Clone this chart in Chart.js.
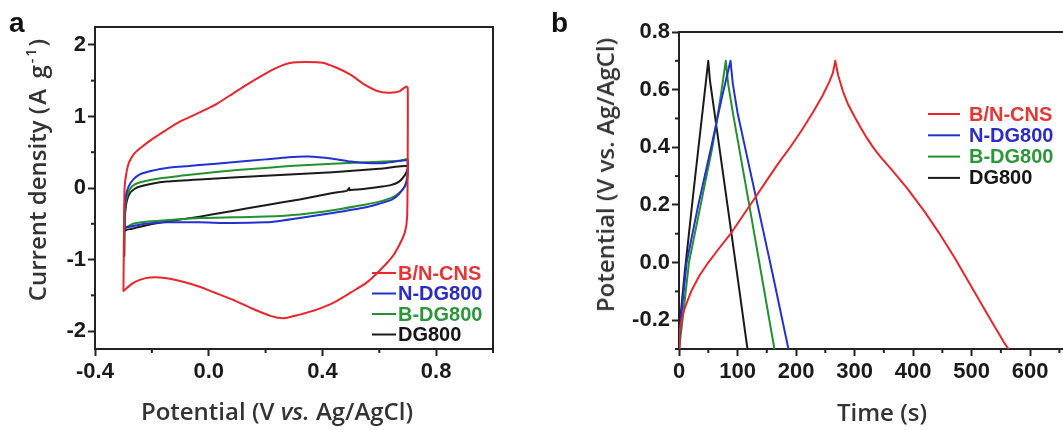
<!DOCTYPE html>
<html><head><meta charset="utf-8">
<script src="https://cdn.jsdelivr.net/npm/chart.js@4.4.1/dist/chart.umd.min.js"></script>
<style>
html,body{margin:0;padding:0;background:#fff;overflow:hidden;width:1063px;height:430px;}
#wrap{position:relative;width:1063px;height:430px;overflow:hidden;background:#fff;}
canvas{position:absolute;top:0;}
#cA{left:0;width:520px;height:430px;}
#cB{left:540px;width:570px;height:430px;}
.lbl{position:absolute;font-family:"Liberation Sans",Arial,sans-serif;font-weight:bold;font-size:28px;color:#111;line-height:1;}
.ttl{position:absolute;font-family:"Open Sans",sans-serif;font-weight:600;font-size:24px;color:#333;white-space:nowrap;line-height:1;transform:translate(-50%,-50%);}
.rot{transform:translate(-50%,-50%) rotate(-90deg);}
sup{font-size:0.6em;vertical-align:0.7em;line-height:0;}
.sp{letter-spacing:2px;}
</style></head>
<body><div id="wrap">
<canvas id="cA" width="520" height="430"></canvas>
<canvas id="cB" width="570" height="430"></canvas>
<div class="lbl" style="left:9px;top:9px">a</div>
<div class="lbl" style="left:551px;top:9px">b</div>
<div class="ttl rot" style="left:37px;top:169px">Current density <span class="sp">(A g<sup>-1</sup>)</span></div>
<div class="ttl" style="left:277px;top:411px">Potential (V <i>vs.</i> Ag/AgCl)</div>
<div class="ttl rot" style="left:605px;top:175px">Potential (V vs. Ag/AgCl)</div>
<div class="ttl" style="left:882px;top:412px">Time (s)</div>
</div>
<script>
// ---------- Panel a: CV curves ----------
const seriesNames = ['B/N-CNS', 'N-DG800', 'B-DG800', 'DG800'];

const cvBnCnsV = [-0.300,-0.298,-0.296,-0.290,-0.280,-0.262,-0.240,-0.200,-0.150,-0.100,-0.030,0.030,0.085,0.140,0.200,0.250,0.290,0.340,0.400,0.450,0.500,0.550,0.590,0.630,0.670,0.695,0.700,0.700,0.698,0.690,0.670,0.646,0.600,0.553,0.500,0.436,0.380,0.320,0.265,0.220,0.150,0.084,0.020,-0.032,-0.090,-0.148,-0.207,-0.240,-0.267,-0.300];
const cvBnCnsJ = [-1.44,-0.60,0.00,0.20,0.36,0.48,0.56,0.68,0.81,0.93,1.06,1.18,1.32,1.46,1.60,1.70,1.75,1.76,1.75,1.68,1.58,1.44,1.36,1.33,1.35,1.42,1.40,0.50,-0.40,-0.62,-0.80,-0.96,-1.16,-1.33,-1.46,-1.61,-1.70,-1.77,-1.82,-1.79,-1.68,-1.56,-1.46,-1.38,-1.31,-1.26,-1.25,-1.28,-1.33,-1.44];

const cvNdgV = [-0.297,-0.296,-0.292,-0.282,-0.265,-0.242,-0.200,-0.148,-0.032,0.084,0.200,0.280,0.350,0.436,0.500,0.553,0.620,0.695,0.700,0.698,0.690,0.670,0.646,0.600,0.553,0.436,0.320,0.250,0.200,0.084,-0.032,-0.148,-0.220,-0.266,-0.297];
const cvNdgJ = [-0.56,-0.30,-0.12,0.02,0.12,0.19,0.24,0.28,0.32,0.36,0.40,0.43,0.44,0.41,0.37,0.35,0.35,0.39,0.38,0.15,0.03,-0.08,-0.16,-0.22,-0.27,-0.35,-0.42,-0.46,-0.48,-0.49,-0.48,-0.48,-0.50,-0.53,-0.56];

const cvBdgV = [-0.297,-0.295,-0.290,-0.278,-0.260,-0.230,-0.180,-0.100,-0.032,0.100,0.200,0.300,0.436,0.550,0.670,0.700,0.699,0.692,0.670,0.646,0.600,0.553,0.436,0.320,0.200,0.084,-0.032,-0.148,-0.220,-0.266,-0.297];
const cvBdgJ = [-0.57,-0.35,-0.15,-0.02,0.05,0.09,0.13,0.17,0.20,0.25,0.28,0.31,0.34,0.36,0.38,0.40,0.15,0.03,-0.07,-0.13,-0.19,-0.23,-0.31,-0.37,-0.40,-0.41,-0.42,-0.45,-0.47,-0.50,-0.57];

const cvDgV = [0.495,0.485,0.436,0.320,0.200,0.084,-0.032,-0.148,-0.230,-0.270,-0.295,-0.297,-0.296,-0.294,-0.288,-0.277,-0.260,-0.242,-0.200,-0.148,-0.032,0.200,0.436,0.600,0.700,0.700,0.690,0.670,0.640,0.610,0.550,0.495];
const cvDgJ = [0.00,-0.04,-0.07,-0.16,-0.24,-0.32,-0.40,-0.47,-0.53,-0.57,-0.60,-0.95,-0.60,-0.35,-0.18,-0.07,-0.01,0.02,0.06,0.09,0.12,0.17,0.22,0.27,0.31,0.27,0.18,0.09,0.04,0.02,-0.01,-0.03];

const cvXTicks  = [-0.4,-0.2,0.0,0.2,0.4,0.6,0.8,1.0];
const cvXLabels = ['-0.4','','0.0','','0.4','','0.8',''];
const cvYTicks  = [-2,-1.5,-1,-0.5,0,0.5,1,1.5,2];
const cvYLabels = ['-2','','-1','','0','','1','','2'];

// ---------- Panel b: GCD curves ----------
const gcdBnCnsT = [0,1,4,8,15,22,35,50,65,90,110,130,150,170,190,210,230,245,257,263,267,272,280,288,300,311,322,333,345,360,389,420,444,470,500,530,555,563];
const gcdBnCnsU = [-0.30,-0.24,-0.205,-0.17,-0.13,-0.095,-0.045,0.00,0.04,0.105,0.165,0.225,0.285,0.345,0.40,0.46,0.525,0.578,0.628,0.658,0.70,0.65,0.595,0.553,0.506,0.466,0.429,0.396,0.365,0.330,0.260,0.176,0.104,0.02,-0.085,-0.19,-0.276,-0.30];

const gcdNdgT = [0,3,13,33,55,73,88,92,100,130,160,187];
const gcdNdgU = [-0.30,-0.20,0.00,0.20,0.40,0.57,0.70,0.62,0.52,0.24,-0.04,-0.30];

const gcdBdgT = [0,6,17,37,57,70,80,84,92,120,145,163];
const gcdBdgU = [-0.30,-0.20,0.00,0.20,0.40,0.56,0.70,0.62,0.52,0.20,-0.09,-0.30];

const gcdDgT = [0,2,10,25,40,50,53,60,80,100,117];
const gcdDgU = [-0.30,-0.20,-0.03,0.25,0.52,0.70,0.63,0.53,0.24,-0.05,-0.30];

const gcdXTicks  = [0,50,100,150,200,250,300,350,400,450,500,550,600,650,700];
const gcdXLabels = ['0','','100','','200','','300','','400','','500','','600','','700'];
const gcdYTicks  = [-0.3,-0.2,-0.1,0.0,0.1,0.2,0.3,0.4,0.5,0.6,0.7,0.8];
const gcdYLabels = ['','-0.2','','0.0','','0.2','','0.4','','0.6','','0.8'];

// ---------- styling ----------
const lineColors = ['#e8262b', '#2330d2', '#22912e', '#1a1a1a'];
const textColors = ['#e43636', '#2a2cc4', '#2c973a', '#151515'];
const FONT = '"Liberation Sans", Arial, sans-serif';
Chart.defaults.font.family = FONT;

function pts(xs, ys) { return xs.map((x, i) => ({x: x, y: ys[i]})); }

const framePlugin = {
  id: 'frame',
  afterDraw(chart, args, o) {
    const {left, right, top, bottom} = chart.chartArea;
    const ctx = chart.ctx;
    ctx.save();
    ctx.strokeStyle = '#222';
    ctx.lineWidth = 2;
    ctx.beginPath();
    if (o.top) { ctx.moveTo(left - 1, top); ctx.lineTo(right + 1, top); }
    if (o.right) { ctx.moveTo(right, top); ctx.lineTo(right, bottom + 4); }
    ctx.stroke();
    // minor (unlabelled) ticks, shorter than the major ones
    ['x', 'y'].forEach(id => {
      const s = chart.scales[id];
      const labels = o[id + 'Labels'];
      s.ticks.forEach((t, i) => {
        if (labels[i] !== '') return;
        const p = s.getPixelForValue(t.value);
        ctx.beginPath();
        if (id === 'x') { ctx.moveTo(p, bottom); ctx.lineTo(p, bottom + 4); }
        else { ctx.moveTo(left, p); ctx.lineTo(left - 4, p); }
        ctx.stroke();
      });
    });
    ctx.restore();
  }
};

const legendPlugin = {
  id: 'insideLegend',
  afterDatasetsDraw(chart, args, o) {
    const ctx = chart.ctx;
    ctx.save();
    ctx.font = 'bold ' + o.size + 'px ' + FONT;
    ctx.textBaseline = 'middle';
    chart.data.datasets.forEach((ds, i) => {
      const yy = o.y + i * o.rowH;
      ctx.strokeStyle = ds.borderColor;
      ctx.lineWidth = 2;
      ctx.beginPath();
      ctx.moveTo(o.x, yy);
      ctx.lineTo(o.x + o.lineLen, yy);
      ctx.stroke();
      ctx.fillStyle = textColors[i];
      ctx.fillText(ds.label, o.x + o.lineLen + o.gap, yy + 1);
    });
    ctx.restore();
  }
};

function axis(min, max, ticks, labels, isX, fit) {
  return {
    type: 'linear', min: min, max: max,
    afterBuildTicks: s => { s.ticks = ticks.map(v => ({value: v})); },
    afterFit: s => { if (isX) s.height = fit; else s.width = fit; },
    border: {color: '#222', width: 2},
    grid: {
      drawOnChartArea: false, drawTicks: true, tickLength: 7, tickWidth: 2,
      tickColor: c => (labels[c.index] === '' ? 'rgba(0,0,0,0)' : '#222')
    },
    ticks: {
      autoSkip: false, maxRotation: 0, minRotation: 0,
      padding: isX ? 3 : 2,
      color: '#1a1a1a',
      font: {size: 22, weight: 'bold', family: FONT},
      callback: (v, i) => labels[i]
    }
  };
}

function makeDatasets(list, tension) {
  return list.map((d, i) => ({
    label: seriesNames[i],
    data: d,
    showLine: true,
    borderColor: lineColors[i],
    backgroundColor: lineColors[i],
    borderWidth: 2,
    borderJoinStyle: 'round',
    borderCapStyle: 'round',
    pointRadius: 0,
    tension: tension,
    fill: false
  }));
}

// Panel a chart
const cvData = [pts(cvBnCnsV, cvBnCnsJ), pts(cvNdgV, cvNdgJ), pts(cvBdgV, cvBdgJ), pts(cvDgV, cvDgJ)];
new Chart(document.getElementById('cA'), {
  type: 'scatter',
  data: {datasets: makeDatasets(cvData, 0.2)},
  options: {
    responsive: false, animation: false, devicePixelRatio: 1,
    layout: {padding: {top: 27, right: 27, left: 0, bottom: 0}},
    plugins: {
      legend: {display: false}, tooltip: {enabled: false},
      frame: {top: true, right: true, xLabels: cvXLabels, yLabels: cvYLabels},
      insideLegend: {x: 372, y: 273, rowH: 20.5, lineLen: 24, gap: 2, size: 20}
    },
    scales: {
      x: axis(-0.4, 1.0, cvXTicks, cvXLabels, true, 81),
      y: axis(-2.25, 2.25, cvYTicks, cvYLabels, false, 95)
    }
  },
  plugins: [framePlugin, legendPlugin]
});

// Panel b chart
const gcdData = [pts(gcdBnCnsT, gcdBnCnsU), pts(gcdNdgT, gcdNdgU), pts(gcdBdgT, gcdBdgU), pts(gcdDgT, gcdDgU)];
new Chart(document.getElementById('cB'), {
  type: 'scatter',
  data: {datasets: makeDatasets(gcdData, 0)},
  options: {
    responsive: false, animation: false, devicePixelRatio: 1,
    layout: {padding: {top: 32, right: 10, left: 0, bottom: 0}},
    plugins: {
      legend: {display: false}, tooltip: {enabled: false},
      frame: {top: true, right: false, xLabels: gcdXLabels, yLabels: gcdYLabels},
      insideLegend: {x: 388, y: 114, rowH: 21.3, lineLen: 32, gap: 9, size: 20}
    },
    scales: {
      x: axis(0, 700, gcdXTicks, gcdXLabels, true, 81),
      y: axis(-0.3, 0.8, gcdYTicks, gcdYLabels, false, 139)
    }
  },
  plugins: [framePlugin, legendPlugin]
});
</script>
</body></html>
